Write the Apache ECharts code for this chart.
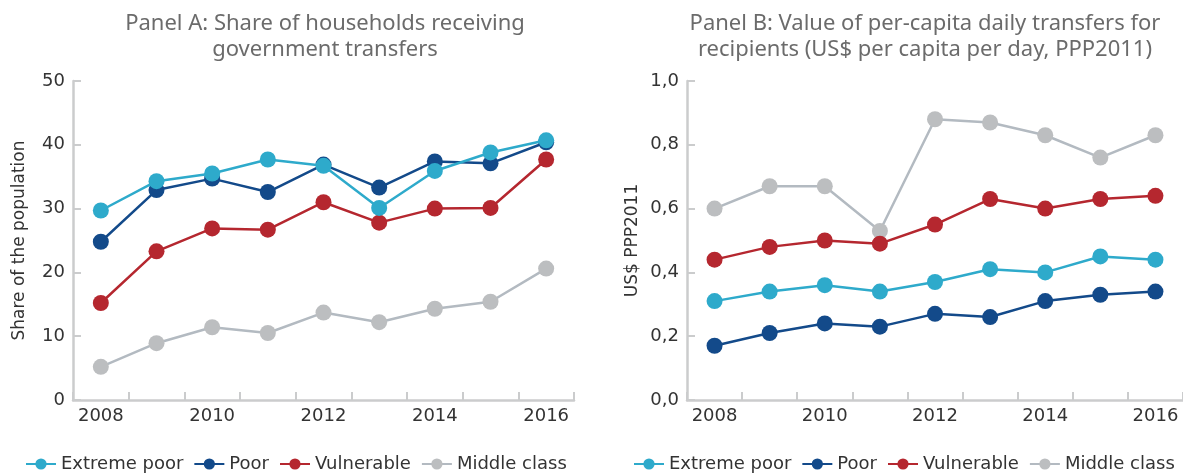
<!DOCTYPE html>
<html><head><meta charset="utf-8">
<script src="https://cdn.jsdelivr.net/npm/echarts@6/dist/echarts.min.js"></script>
<style>html,body{margin:0;padding:0;background:#fff}#c{width:1183px;height:474px}</style>
</head><body><div id="c"></div>
<script>
const years = ['2008','2009','2010','2011','2012','2013','2014','2015','2016'];
const seriesNames = ['Extreme poor','Poor','Vulnerable','Middle class'];
const colors = ['#2eaacb','#134a8a','#b5272f','#bcbec0'];
// Panel A: share of households receiving government transfers (%)
const aExtremePoor = [29.7, 34.3, 35.5, 37.7, 36.7, 30.1, 35.9, 38.8, 40.7];
const aPoor        = [24.8, 32.9, 34.7, 32.6, 36.9, 33.3, 37.4, 37.1, 40.4];
const aVulnerable  = [15.2, 23.3, 26.9, 26.7, 31.0, 27.8, 30.0, 30.1, 37.7];
const aMiddle      = [5.2, 8.9, 11.4, 10.5, 13.7, 12.2, 14.3, 15.4, 20.6];
// Panel B: per-capita daily transfers (US$ PPP2011)
const bExtremePoor = [0.31, 0.34, 0.36, 0.34, 0.37, 0.41, 0.40, 0.45, 0.44];
const bPoor        = [0.17, 0.21, 0.24, 0.23, 0.27, 0.26, 0.31, 0.33, 0.34];
const bVulnerable  = [0.44, 0.48, 0.50, 0.49, 0.55, 0.63, 0.60, 0.63, 0.64];
const bMiddle      = [0.60, 0.67, 0.67, 0.53, 0.88, 0.87, 0.83, 0.76, 0.83];
const titleA = 'Panel A: Share of households receiving\ngovernment transfers';
const titleB = 'Panel B: Value of per-capita daily transfers for\nrecipients (US$ per capita per day, PPP2011)';

const FONT = 'DejaVu Sans';
const TFONT = 'Noto Sans';
const axisGray = '#cbcccd';
const chart = echarts.init(document.getElementById('c'));
function xAxis(gi){
  return {type:'category', gridIndex:gi, data:years, boundaryGap:true,
    axisLine:{lineStyle:{color:axisGray,width:2.5}},
    axisTick:{show:true,inside:true,length:8,interval:0,lineStyle:{color:axisGray,width:2}},
    axisLabel:{interval:1,color:'#333',fontSize:18,fontFamily:FONT,margin:7},
    splitLine:{show:false}};
}
function yAxis(gi,max,interval,name,fmt,nameGap){
  return {type:'value', gridIndex:gi, min:0, max:max, interval:interval,
    name:name, nameLocation:'middle', nameGap:nameGap,
    nameTextStyle:{color:'#333',fontSize:17,fontFamily:FONT},
    axisLine:{show:true,lineStyle:{color:axisGray,width:2.5}},
    axisTick:{show:true,inside:true,length:8,lineStyle:{color:axisGray,width:2}},
    axisLabel:{color:'#333',fontSize:18,fontFamily:FONT,margin:8,formatter:fmt},
    splitLine:{show:false}};
}
function mk(name, data, idx, gi){
  return {name:name, type:'line', xAxisIndex:gi, yAxisIndex:gi, data:data,
    symbol:'circle', symbolSize:16, showSymbol:true,
    lineStyle:{color: idx===3 ? '#b3bac1' : colors[idx], width:2.5},
    itemStyle:{color:colors[idx]}, z: 10-idx};
}
const aData = [aExtremePoor,aPoor,aVulnerable,aMiddle];
const bData = [bExtremePoor,bPoor,bVulnerable,bMiddle];
const series = [];
for (let i=3;i>=0;i--) series.push(mk(seriesNames[i], aData[i], i, 0));
for (let i=3;i>=0;i--) series.push(mk(seriesNames[i], bData[i], i, 1));

chart.setOption({
  animation:false,
  color:colors,
  title:[
    {text:titleA, left:320, top:6, textAlign:'center',
     textStyle:{color:'#6b6b6b',fontSize:22,fontWeight:'normal',fontFamily:TFONT,lineHeight:26}},
    {text:titleB, left:920, top:6, textAlign:'center',
     textStyle:{color:'#6b6b6b',fontSize:22,fontWeight:'normal',fontFamily:TFONT,lineHeight:26}}
  ],
  legend:[
    {data:seriesNames, left:20, top:450, itemWidth:30, itemHeight:14, itemGap:10,
     textStyle:{color:'#333',fontSize:18,fontFamily:FONT}, selectedMode:false},
    {data:seriesNames, left:628, top:450, itemWidth:30, itemHeight:14, itemGap:10,
     textStyle:{color:'#333',fontSize:18,fontFamily:FONT}, selectedMode:false}
  ],
  grid:[
    {left:73, top:81, width:501, height:319},
    {left:687, top:81, width:500, height:319}
  ],
  xAxis:[xAxis(0), xAxis(1)],
  yAxis:[
    yAxis(0,50,10,'Share of the population',v=>String(v),45),
    yAxis(1,1,0.2,'US$ PPP2011',v=>v.toFixed(1).replace('.',','),46)
  ],
  series:series
});
</script></body></html>
